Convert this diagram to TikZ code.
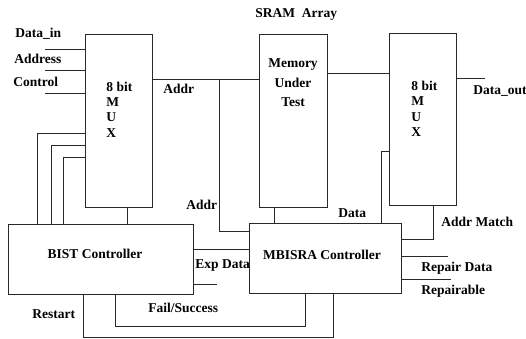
\documentclass[tikz,border=0pt]{standalone}
\usepackage{fontspec}
\setmainfont{Liberation Serif}
\usetikzlibrary{calc}
\definecolor{linie}{RGB}{40,40,40}

\begin{document}
\begin{tikzpicture}[x=1pt, y=-1pt, linie, line width=0.9pt,
	box/.style={draw, rectangle, inner sep=0pt},
	lbl/.style={anchor=base west, inner sep=0pt, text=black, font=\fontsize{13.5}{15}\selectfont\bfseries}]

	\useasboundingbox (0,0) rectangle (526,339);

	% Bloecke
	\node[box, minimum width=67pt, minimum height=173pt] (mux1) at (118.5,120.5) {};
	\node[box, minimum width=68pt, minimum height=173pt] (mem) at (293,120.5) {};
	\node[box, minimum width=67pt, minimum height=172pt] (mux2) at (422.5,119) {};
	\node[box, minimum width=185pt, minimum height=70pt] (bist) at (100.5,259) {};
	\node[box, minimum width=152pt, minimum height=70pt] (mbisra) at (325,258) {};

	% Beschriftung der Bloecke (Basislinie der letzten Zeile)
	\node[lbl, align=left] (mux1txt) at (106,137) {8 bit\\M\\U\\X};
	\node[lbl, align=left] (mux2txt) at (411,136) {8 bit\\M\\U\\X};
	\node[lbl, anchor=base, align=center, font=\fontsize{13.5}{19.5}\selectfont\bfseries] (memtxt) at (293,107) {Memory\\Under\\Test};
	\node[lbl, anchor=base] (bisttxt) at (95,258) {BIST Controller};
	\node[lbl, anchor=base] (mbisratxt) at (322,259) {MBISRA Controller};
	\node[lbl] (sram) at (255,18) {SRAM\ \ Array};

	% Eingaenge
	\coordinate (din) at (45,49);
	\coordinate (adr) at (45,70);
	\coordinate (ctl) at (45,93);
	\draw (din) -- (mux1.west |- din);
	\draw (adr) -- (mux1.west |- adr);
	\draw (ctl) -- (mux1.west |- ctl);
	\node[lbl] (dinl) at (15,38) {Data\_in};
	\node[lbl] (adrl) at (14,64) {Address};
	\node[lbl] (ctll) at (13,87) {Control};

	% Rueckfuehrung BIST -> MUX
	\coordinate (fb1) at (37,133);
	\coordinate (fb2) at (51,145);
	\coordinate (fb3) at (63,157);
	\draw (bist.north -| fb1) |- (mux1.west |- fb1);
	\draw (bist.north -| fb2) |- (mux1.west |- fb2);
	\draw (bist.north -| fb3) |- (mux1.west |- fb3);
	\coordinate (mb) at (127,0);
	\draw (mux1.south -| mb) -- (bist.north -| mb);

	% Adresse
	\coordinate (addr) at (219,79);
	\coordinate (addrb) at (219,231);
	\draw (mux1.east |- addr) -- (mem.west |- addr);
	\draw (addr) -- (addrb) -- (mbisra.west |- addrb);
	\node[lbl] (addrl) at (163,94) {Addr};
	\node[lbl] (addrl2) at (186,209) {Addr};

	% Speicher
	\coordinate (mm) at (274,0);
	\coordinate (mo) at (0,73);
	\draw (mem.south -| mm) -- (mbisra.north -| mm);
	\draw (mem.east |- mo) -- (mux2.west |- mo);

	% Ausgang
	\coordinate (dout) at (485,78);
	\draw (mux2.east |- dout) -- (dout);
	\node[lbl] (doutl) at (473,95) {Data\_out};

	% Data
	\coordinate (dat) at (381,151);
	\draw (mbisra.north -| dat) |- (mux2.west |- dat);
	\node[lbl] (datl) at (338,217) {Data};

	% Addr Match
	\coordinate (am) at (433,239);
	\draw (mux2.south -| am) |- (mbisra.east |- am);
	\node[lbl] (aml) at (441,226) {Addr Match};

	% Repair
	\coordinate (rd) at (448,256);
	\coordinate (rp) at (451,279);
	\draw (mbisra.east |- rd) -- (rd);
	\draw (mbisra.east |- rp) -- (rp);
	\node[lbl] (rdl) at (421,271) {Repair Data};
	\node[lbl] (rpl) at (421,294) {Repairable};

	% Exp Data
	\coordinate (ed) at (0,249);
	\coordinate (es) at (217,284);
	\draw (bist.east |- ed) -- (mbisra.west |- ed);
	\draw (bist.east |- es) -- (es);
	\node[lbl] (edl) at (195,268) {Exp Data};

	% Fail/Success und Restart
	\coordinate (fs1) at (115,326);
	\coordinate (fs2) at (305,326);
	\draw (bist.south -| fs1) -- (fs1) -- (fs2) -- (mbisra.south -| fs2);
	\node[lbl] (fsl) at (148,312) {Fail/Success};
	\coordinate (rs1) at (83,337);
	\coordinate (rs2) at (333,337);
	\draw (bist.south -| rs1) -- (rs1) -- (rs2) -- (mbisra.south -| rs2);
	\node[lbl] (rsl) at (32,318) {Restart};
\end{tikzpicture}
\end{document}
